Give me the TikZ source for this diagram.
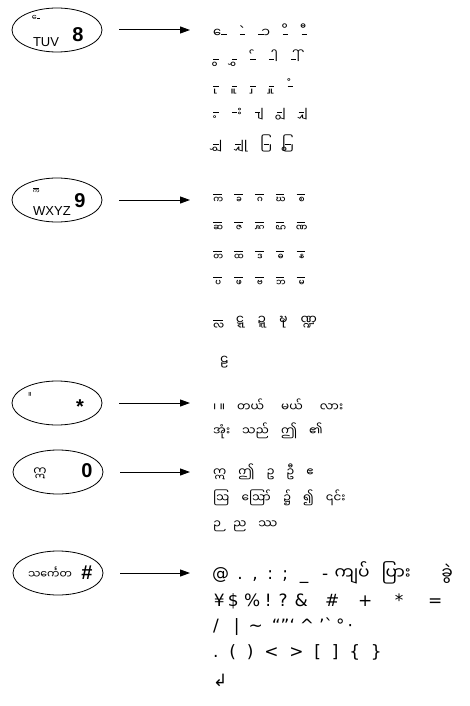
\documentclass[tikz,border=0pt]{standalone}
\usepackage{fontspec}
\setmainfont{Liberation Sans}
\newfontfamily\mya[Script=Myanmar]{Noto Sans Myanmar UI}
\newfontfamily\dvs{DejaVu Sans}
\usetikzlibrary{arrows.meta,shapes.geometric}
% placeholder base for a Myanmar sign: a no-break space with a short dash over it
\def\nb{^^^^00a0}
\newcommand\dsh{\rule[0.26em]{0.42em}{0.065em}}
% dash before the sign (signs above, below or after the base)
\newcommand\pa[1]{\rlap{\dsh}\kern0.17em{\mya\nb#1}}
% dash after the sign (signs written before the base)
\newcommand\pb[1]{{\mya\nb#1}\kern0.17em\llap{\dsh}}
% wide dash over a stacked (subjoined) consonant
\newcommand\ps[1]{\rlap{\rule[0.26em]{0.72em}{0.065em}}\kern0.48em{\mya\nb#1}}
% a fixed-width cell with its content centred
\newcommand\cell[2]{\makebox[#1pt][c]{#2}}
\begin{document}
\begin{tikzpicture}[x=1pt,y=-1pt,
  keyoval/.style={draw, line width=0.8pt, ellipse, minimum width=90pt, minimum height=44pt, inner sep=0pt},
  keynum/.style={font=\bfseries\fontsize{20}{20}\selectfont, inner sep=0pt},
  keylet/.style={font=\fontsize{13}{13}\selectfont, inner sep=0pt},
  keymya/.style={font=\mya\fontsize{8}{8}\selectfont, inner sep=0pt},
  row/.style={anchor=west, inner sep=0pt, font=\mya\fontsize{12}{12}\selectfont},
  bigrow/.style={anchor=west, inner sep=0pt, font=\mya\fontsize{13}{13}\selectfont},
  symrow/.style={anchor=west, inner sep=0pt, font=\dvs\fontsize{17}{17}\selectfont},
  arr/.style={line width=1pt, -{Triangle[length=10pt,width=7pt]}, shorten <=17pt, shorten >=23pt}]
\useasboundingbox (0,0) rectangle (469,706);

% key 8
\node[keyoval] (k8) at (57,30) {};
\node[keymya] (k8a) at (36,18) {\pb{ေ}};
\node[keylet] (k8b) at (46,42) {TUV};
\node[keynum] (k8c) at (78,35) {8};
\node[bigrow] (l8a) at (213,31) {\pb{ေ}\quad \pa{ဲ}\quad \pa{ာ}\quad \pa{ိ}\quad \pa{ီ}};
\node[bigrow] (l8b) at (213,58) {\pa{ွ}\quad \pa{ွှ}\quad \pa{်}\quad \pa{ါ}\quad \pa{ါ်}};
\node[bigrow] (l8c) at (213,86) {\pa{ု}\quad \pa{ူ}\quad \pa{ှ}\quad \pa{ှု}\quad \pa{ံ}};
\node[bigrow] (l8d) at (213,114) {\pa{့}\quad \pa{း}\quad \pa{ျ}\quad \pa{ျွ}\quad \pa{ျှ}};
\node[bigrow] (l8e) at (213,143) {\pa{ျွှ}\quad \pa{ျှု}\quad \pb{ြ}\quad \pb{ြွ}};
\draw[arr] (k8.east) -- (k8.east -| l8a.west);

% key 9
\node[keyoval] (k9) at (57,200) {};
\node[keymya] (k9a) at (36,190) {\ps{္က}};
\node[keylet] (k9b) at (52,211) {WXYZ};
\node[keynum] (k9c) at (80,201) {9};
\node[row] (l9a) at (213,198) {\ps{္က}\quad \ps{္ခ}\quad \ps{္ဂ}\quad \ps{္ဃ}\quad \ps{္စ}};
\node[row] (l9b) at (213,226) {\ps{္ဆ}\quad \ps{္ဇ}\quad \ps{္ဋ}\quad \ps{္ဌ}\quad \ps{္ဏ}};
\node[row] (l9c) at (213,255) {\ps{္တ}\quad \ps{္ထ}\quad \ps{္ဒ}\quad \ps{္ဓ}\quad \ps{္န}};
\node[row] (l9d) at (213,281) {\ps{္ပ}\quad \ps{္ဖ}\quad \ps{္ဗ}\quad \ps{္ဘ}\quad \ps{္မ}};
\node[bigrow] (l9e) at (213,322) {\ps{္လ}\quad ဋ္ဋ\quad ဍ္ဍ\quad ဍ္ဎ\quad ဏ္ဍ};
\node[bigrow] (l9f) at (220,362) {ဠ};
\draw[arr] (k9.east) -- (k9.east -| l9a.west);

% key *
\node[keyoval] (ks) at (57,403) {};
\node[keymya] (ksa) at (30,395) {။};
\node[keynum] (ksb) at (80,407) {*};
\node[row] (lsa) at (213,405) {၊ ။\quad တယ်\quad\, မယ်\quad\, လား};
\node[row] (lsb) at (213,431) {အုံး\quad သည်\quad ဤ\quad ၏};
\draw[arr] (ks.east) -- (ks.east -| lsa.west);

% key 0
\node[keyoval] (k0) at (58,472) {};
\node[keymya, font=\mya\fontsize{12}{12}\selectfont] (k0a) at (40,473) {ဣ};
\node[keynum] (k0b) at (87,471) {0};
\node[row] (l0a) at (213,472) {ဣ\quad ဤ\quad ဥ\quad ဦ\quad ဧ};
\node[row] (l0b) at (213,498) {ဩ\quad ဪ\quad ၌\quad ၍\quad ၎င်း};
\node[row] (l0c) at (213,526) {ဉ\quad ည\quad ဿ};
\draw[arr] (k0.east) -- (k0.east -| l0a.west);

% key #
\node[keyoval] (kh) at (58,573) {};
\node[keymya, font=\mya\fontsize{11}{11}\selectfont] (kha) at (50,573) {သင်္ကေတ};
\node[keynum] (khb) at (87,573) {\#};
\node[symrow] (lha) at (213,573) {\cell{15}{@}\cell{24}{.}\cell{6}{,}\cell{24}{:}\cell{6}{;}\cell{32}{\_}\cell{10}{-}\cell{44}{\mya ကျပ်}\cell{44}{\mya ပြား}\cell{58}{\mya ခွဲ}};
\node[symrow] (lhb) at (213,601) {\cell{12}{¥}\cell{16}{\$}\cell{22}{\%}\cell{10}{!}\cell{20}{?}\cell{16}{\&}\cell{46}{\#}\cell{20}{+}\cell{48}{*}\cell{24}{=}};
\node[symrow] (lhc) at (213,627) {/\hspace{15pt}|\hspace{9pt}\textasciitilde\hspace{9pt}“”‘\hspace{5pt}\textasciicircum\hspace{5pt}’`\hspace{3pt}°\hspace{3pt}·};
\node[symrow] (lhd) at (213,652) {.\ \ (\ \ )\ \ <\ \ >\ \ [\ \ ]\ \ \{\ \ \}};
\node[symrow] (lhe) at (213,680) {↲};
\draw[arr] (kh.east) -- (kh.east -| lha.west);
\end{tikzpicture}
\end{document}
